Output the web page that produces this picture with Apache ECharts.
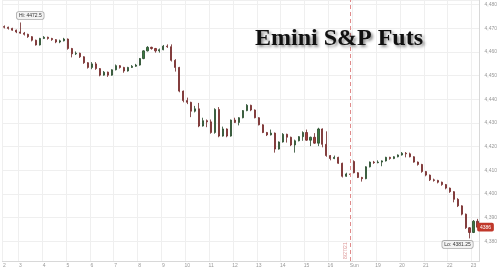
<!DOCTYPE html>
<html><head><meta charset="utf-8">
<script src="https://cdn.jsdelivr.net/npm/echarts@6/dist/echarts.min.js"></script>
<style>html,body{margin:0;padding:0;background:#fff}#c{width:500px;height:268px}</style>
</head><body><div id="c"></div>
<script>
const times = [
 '2:20','2:30','2:40','2:50',
 '3:00','3:10','3:20','3:30','3:40','3:50','4:00','4:10','4:20','4:30','4:40','4:50',
 '5:00','5:10','5:20','5:30','5:40','5:50','6:00','6:10','6:20','6:30','6:40','6:50',
 '7:00','7:10','7:20','7:30','7:40','7:50','8:00','8:10','8:20','8:30','8:40','8:50',
 '9:00','9:10','9:20','9:30','9:40','9:50','10:00','10:10','10:20','10:30','10:40','10:50',
 '11:00','11:10','11:20','11:30','11:40','11:50','12:00','12:10','12:20','12:30','12:40','12:50',
 '13:00','13:10','13:20','13:30','13:40','13:50','14:00','14:10','14:20','14:30','14:40','14:50',
 '15:00','15:10','15:20','15:30','15:40','15:50','16:00','16:10','16:20','16:30','16:40','16:50',
 '18:00','18:10','18:20','18:30','18:40','18:50','19:00','19:10','19:20','19:30','19:40','19:50',
 '20:00','20:10','20:20','20:30','20:40','20:50','21:00','21:10','21:20','21:30','21:40','21:50',
 '22:00','22:10','22:20','22:30','22:40','22:50','23:00','23:10'
];
const opens = [
 4470.75,4470.5,4470.0,4469.25,4468.5,4468.0,4467.5,4466.5,4465.0,4463.0,
 4465.75,4466.25,4465.75,4465.25,4464.25,4464.75,4465.5,4461.5,4459.25,4459.5,
 4458.0,4455.5,4453.5,4455.0,4453.0,4450.25,4451.5,4450.25,4452.5,4454.25,
 4453.5,4452.0,4453.5,4454.0,4454.5,4457.25,4460.5,4462.0,4461.5,4460.5,
 4461.0,4462.5,4462.25,4456.5,4453.5,4443.5,4439.5,4438.75,4435.0,4436.0,
 4428.75,4431.0,4430.5,4426.0,4435.75,4424.5,4427.5,4424.5,4431.25,4430.25,
 4432.25,4435.25,4437.5,4435.5,4432.25,4429.25,4426.0,4425.0,4425.75,4419.0,
 4422.0,4425.25,4424.0,4420.75,4422.5,4424.25,4426.0,4422.75,4424.0,4421.5,
 4427.5,4421.0,4416.25,4415.0,4415.5,4413.0,4407.5,4408.5,4413.75,4409.0,
 4407.0,4406.5,4411.5,4413.5,4413.25,4413.5,4414.0,4415.5,4415.0,4415.75,
 4416.5,4417.25,4417.0,4415.75,4413.5,4412.5,4409.5,4408.0,4406.0,4405.75,
 4405.0,4404.0,4402.5,4401.0,4397.75,4395.0,4391.5,4385.75,4383.75,4388.5
];
const closes = [
 4470.5,4470.0,4469.25,4468.5,4468.0,4467.5,4466.5,4465.0,4463.0,4465.75,
 4466.25,4465.75,4465.25,4464.25,4464.75,4465.5,4461.5,4459.25,4459.5,4458.0,
 4455.5,4453.5,4455.0,4453.0,4450.25,4451.5,4450.25,4452.5,4454.25,4453.5,
 4452.0,4453.5,4454.0,4454.5,4457.25,4460.5,4462.0,4461.5,4460.5,4461.0,
 4462.5,4462.25,4456.5,4453.5,4443.5,4439.5,4438.75,4435.0,4436.0,4428.75,
 4431.0,4430.5,4426.0,4435.75,4424.5,4427.5,4424.5,4431.25,4430.25,4432.25,
 4435.25,4437.5,4435.5,4432.25,4429.25,4426.0,4425.0,4425.75,4419.0,4422.0,
 4425.25,4424.0,4420.75,4422.5,4424.25,4426.0,4422.75,4424.0,4421.5,4427.5,
 4421.0,4416.25,4415.0,4415.5,4413.0,4407.5,4408.5,4408.25,4409.0,4407.0,
 4406.5,4411.5,4413.5,4413.25,4413.5,4414.0,4415.5,4415.0,4415.75,4416.5,
 4417.25,4417.0,4415.75,4413.5,4412.5,4409.5,4408.0,4406.0,4405.75,4405.0,
 4404.0,4402.5,4401.0,4397.75,4395.0,4391.5,4385.75,4383.75,4388.5,4386.0
];
const lows = [
 4470.0,4469.5,4469.0,4468.0,4467.75,4467.0,4466.0,4464.5,4462.75,4462.75,
 4465.5,4465.25,4464.75,4463.75,4463.75,4464.5,4461.0,4457.75,4458.75,4457.5,
 4455.0,4453.0,4452.75,4452.5,4449.75,4450.0,4449.5,4450.0,4452.25,4453.0,
 4451.25,4451.75,4453.25,4453.75,4454.25,4457.0,4460.25,4461.0,4459.75,4459.75,
 4460.75,4461.75,4456.0,4451.75,4443.0,4438.75,4438.0,4432.5,4434.5,4428.25,
 4428.5,4428.25,4425.5,4425.5,4424.0,4424.25,4424.0,4424.25,4430.0,4429.0,
 4432.0,4435.0,4435.0,4432.0,4429.0,4425.75,4424.5,4424.75,4417.5,4418.75,
 4421.75,4421.75,4420.25,4417.5,4422.25,4422.5,4422.5,4420.25,4421.25,4420.25,
 4419.75,4415.75,4414.25,4414.75,4412.75,4407.0,4407.25,4407.5,4408.75,4406.75,
 4405.25,4406.25,4411.25,4412.75,4413.0,4411.75,4413.75,4414.5,4414.75,4415.5,
 4416.25,4415.5,4415.5,4413.25,4412.0,4409.0,4407.5,4405.5,4405.25,4404.5,
 4403.5,4402.0,4400.5,4396.5,4394.5,4391.0,4385.25,4381.25,4383.5,4385.75
];
const highs = [
 4471.25,4470.75,4470.25,4469.5,4472.5,4468.5,4467.75,4466.75,4465.25,4466.0,
 4466.75,4466.5,4466.0,4465.5,4465.25,4466.0,4465.75,4461.75,4460.25,4459.75,
 4458.25,4455.75,4455.75,4455.75,4453.25,4452.0,4451.75,4452.75,4454.75,4454.5,
 4453.75,4453.75,4454.5,4455.0,4457.5,4460.75,4462.5,4462.25,4461.75,4461.5,
 4463.0,4463.25,4463.25,4457.0,4453.75,4443.75,4440.75,4439.0,4437.25,4438.5,
 4432.25,4431.5,4431.5,4436.25,4436.75,4428.5,4427.75,4431.5,4432.25,4432.5,
 4435.5,4438.0,4437.75,4435.75,4432.5,4429.5,4426.25,4427.25,4426.0,4422.25,
 4425.75,4425.5,4424.25,4423.0,4424.5,4426.5,4427.25,4424.25,4425.75,4428.0,
 4427.75,4426.5,4416.5,4416.25,4415.75,4413.25,4409.0,4408.75,4414.25,4409.25,
 4407.25,4411.75,4413.75,4414.0,4414.25,4414.25,4415.75,4415.75,4416.0,4416.75,
 4417.75,4417.75,4417.5,4416.0,4413.75,4412.75,4409.75,4408.25,4406.5,4406.0,
 4405.25,4404.25,4402.75,4401.25,4398.25,4395.25,4391.75,4386.0,4389.0,4389.5
];
const titleText = 'Emini S&P Futs';
const sessionLabel = '8/27/21';
const hiPoint = ['3:00', 4472.5];
const loPoint = ['22:50', 4381.25];
const lastPoint = ['23:10', 4386];

const candles = opens.map((o, i) => [o, closes[i], lows[i], highs[i]]);
const hourTick = (idx, val) => idx === 0 || val.endsWith(':00');

const chart = echarts.init(document.getElementById('c'), null, {renderer: 'canvas'});
chart.setOption({
  animation: false,
  backgroundColor: '#fff',
  title: {
    text: titleText, left: 250, top: 22,
    textStyle: {
      fontFamily: 'Liberation Serif', fontWeight: 'bold', fontSize: 24, color: '#111',
      textShadowColor: 'rgba(0,0,0,0.45)', textShadowBlur: 3, textShadowOffsetX: 2, textShadowOffsetY: 2
    }
  },
  grid: {left: 0, right: 20, top: 0, bottom: 7, containLabel: false},
  xAxis: {
    type: 'category', data: times, boundaryGap: true,
    axisLine: {lineStyle: {color: '#d8d8d8'}},
    axisTick: {show: false},
    axisLabel: {interval: hourTick, fontSize: 5, color: '#999', margin: 2,
      formatter: v => v === '18:00' ? 'Sun' : v.split(':')[0]},
    splitLine: {show: true, interval: hourTick, lineStyle: {color: '#efefef'}}
  },
  yAxis: {
    type: 'value', position: 'right', scale: true,
    min: 4371.7, max: 4482, splitNumber: 11, minInterval: 10, maxInterval: 10,
    axisLine: {show: true, lineStyle: {color: '#d8d8d8'}},
    axisTick: {show: false},
    axisLabel: {fontSize: 5, color: '#999', margin: 5, showMinLabel: false, showMaxLabel: false},
    splitLine: {lineStyle: {color: '#efefef'}}
  },
  series: [{
    type: 'candlestick', data: candles, barWidth: 1.6,
    itemStyle: {color: '#3a7a3f', color0: '#a33a3a', borderColor: '#24482a', borderColor0: '#6e2626', borderWidth: 0.8},
    markLine: {
      silent: true, symbol: 'none',
      lineStyle: {type: [4, 3], color: '#e08a8a', width: 1},
      label: {show: true, formatter: sessionLabel, position: 'insideStartTop', fontSize: 5, color: '#d99', distance: 2},
      data: [{xAxis: '16:50'}]
    },
    markPoint: {
      silent: true, symbol: 'circle', symbolSize: 0,
      label: {show: true, fontSize: 5, color: '#333', backgroundColor: '#f3f3f3', borderColor: '#aaa',
        borderWidth: 0.8, borderRadius: 2, padding: [1, 2]},
      data: [
        {coord: hiPoint, label: {formatter: 'Hi: 4472.5', offset: [10, -7]}},
        {coord: loPoint, label: {formatter: 'Lo: 4381.25', offset: [-12, 6]}},
        {coord: lastPoint, label: {formatter: '4386', offset: [8, 0], color: '#fff',
          backgroundColor: '#c0392b', borderColor: '#c0392b', borderRadius: 1}}
      ]
    }
  }]
});
</script></body></html>
